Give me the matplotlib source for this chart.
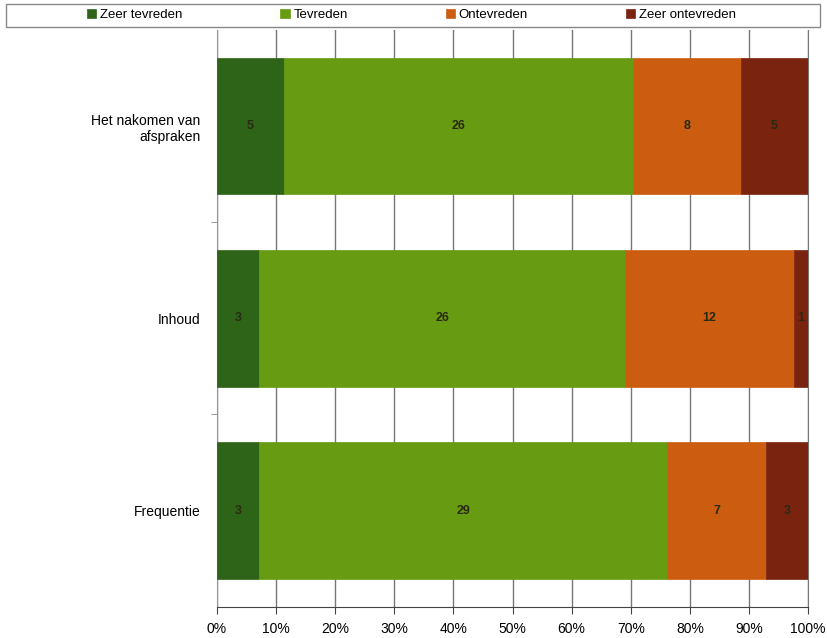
import numpy as np
import matplotlib.pyplot as plt
from matplotlib.patches import Rectangle

plt.rcParams['font.family'] = ['Liberation Sans', 'DejaVu Sans']

categories = ['Het nakomen van\nafspraken', 'Inhoud', 'Frequentie']
series = ['Zeer tevreden', 'Tevreden', 'Ontevreden', 'Zeer ontevreden']
counts = {
    'Zeer tevreden': [5, 3, 3],
    'Tevreden': [26, 26, 29],
    'Ontevreden': [8, 12, 7],
    'Zeer ontevreden': [5, 1, 3],
}
colors = ['#2d6418', '#679b12', '#cc5d10', '#7a2410']
ticks = [0, 10, 20, 30, 40, 50, 60, 70, 80, 90, 100]

fig = plt.figure(figsize=(8.28, 6.38), dpi=100)
ax = fig.add_axes([0.262, 0.049, 0.714, 0.904])

totals = np.sum([counts[s] for s in series], axis=0)
y = np.arange(len(categories))
left = np.zeros(len(categories))
for s, c in zip(series, colors):
    vals = np.array(counts[s], dtype=float)
    pct = vals / totals * 100
    bars = ax.barh(y, pct, left=left, height=0.71, color=c, label=s,
                   edgecolor=c, linewidth=0.5, zorder=3)
    for b, v in zip(bars, counts[s]):
        ax.text(b.get_x() + b.get_width() / 2, b.get_y() + b.get_height() / 2,
                str(v), ha='center', va='center', fontsize=9,
                fontweight='bold', color='#2a2a10', zorder=4)
    left += pct

ax.set_xlim(0, 100)
ax.set_ylim(2.5, -0.5)
ax.set_yticks(y)
ax.set_yticklabels(categories, fontsize=10)
ax.tick_params(axis='y', which='major', length=0, pad=12)
ax.set_yticks([0.5, 1.5], minor=True)
ax.tick_params(axis='y', which='minor', length=4, color='#888888', direction='out')
ax.set_xticks(ticks)
ax.set_xticklabels([f'{t}%' for t in ticks], fontsize=10)
ax.tick_params(axis='x', direction='out', length=5, color='#444444', pad=6)
for lab in ax.get_yticklabels():
    lab.set_horizontalalignment('right')

ax.grid(axis='x', color='#777777', linewidth=1, zorder=0)
ax.set_axisbelow(True)
ax.spines['top'].set_visible(False)
ax.spines['left'].set_color('#999999')
ax.spines['right'].set_color('#777777')
ax.spines['bottom'].set_color('#444444')

fig.patches.append(Rectangle((0.007, 0.958), 0.983, 0.036, transform=fig.transFigure,
                             facecolor='white', edgecolor='#888888', linewidth=1))
fig.legend(loc='center', ncol=4, bbox_to_anchor=(0.497, 0.976), frameon=False,
           fontsize=9.5, handlelength=0.7, handleheight=0.7, handletextpad=0.3,
           columnspacing=7.4, borderpad=0)

fig.savefig('out.png', dpi=100)
